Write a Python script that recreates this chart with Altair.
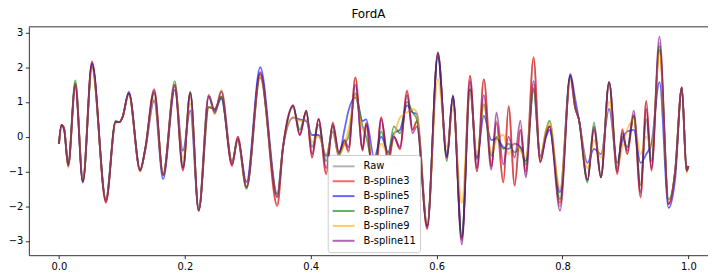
import altair as alt
import pandas as pd

# shared sample positions (local extrema and shoulders)
X = [0.000, 0.004, 0.008, 0.0147, 0.026, 0.038, 0.0525, 0.0746, 0.090, 0.096,
     0.101, 0.111, 0.129, 0.137, 0.1513, 0.1655, 0.184, 0.197, 0.2086, 0.222,
     0.238, 0.2475, 0.258, 0.275, 0.284, 0.298, 0.3197, 0.3468, 0.356, 0.372,
     0.3826, 0.393, 0.402, 0.4125, 0.4246, 0.435, 0.4446, 0.4535, 0.460, 0.4709,
     0.4824, 0.488, 0.5008, 0.512, 0.523, 0.532, 0.5418, 0.553, 0.5618, 0.5686,
     0.585, 0.602, 0.6163, 0.6258, 0.640, 0.653, 0.664, 0.675, 0.687, 0.695,
     0.706, 0.7143, 0.724, 0.733, 0.7415, 0.754, 0.7646, 0.774, 0.7793, 0.796,
     0.8124, 0.820, 0.826, 0.8397, 0.850, 0.861, 0.874, 0.887, 0.895, 0.9028,
     0.9132, 0.924, 0.933, 0.9412, 0.954, 0.9685, 0.979, 0.9895, 0.997, 1.000]

raw = [-0.21, 0.34, 0.25, -0.84, 1.55, -1.28, 2.15, -1.88, 0.42, 0.42,
       0.56, 1.25, -0.98, -0.36, 1.35, -1.12, 1.5, -0.95, 1.28, -2.13,
       1.2, 0.65, 1.33, -0.8, 0.0, -1.45, 1.85, -1.95, -0.3, 0.9,
       0.05, 0.75, -0.6, 0.5, -1.05, 0.4, -0.6, -0.1, -0.45, 1.7,
       -0.4, 0.4, -1.6, 0.55, -0.75, 0.0, -0.35, 1.3, 0.2, 0.45,
       -2.65, 2.43, -0.6, 1.15, -3.0, 1.75, -1.0, 1.65, -0.85, 0.45,
       -1.3, 0.85, -1.4, 0.2, -1.1, 2.25, -0.74, 0.1, 0.3, -2.0,
       1.75, 0.85, 0.5, -1.25, 0.25, -1.17, 1.57, -1.05, 0.2, -0.5,
       0.65, -1.7, 1.0, -0.95, 2.7, -1.94, -0.98, 1.42, -0.98, -0.84]

bspline3 = [-0.21, 0.34, 0.25, -0.84, 1.52, -1.25, 2.17, -1.9, 0.42, 0.42,
            0.56, 1.25, -0.98, -0.36, 1.37, -1.1, 1.45, -0.98, 1.28, -2.13,
            0.85, 0.8, 1.15, -0.85, 0.0, -1.45, 1.85, -2.0, -0.3, 0.9,
            0.05, 0.75, -0.6, 0.51, -1.08, 0.41, -0.45, -0.16, -0.4, 1.71,
            -0.4, 0.4, -1.65, 0.56, -0.79, 0.0, -0.36, 1.33, 0.2, 0.45,
            -2.66, 2.43, -0.6, 1.15, -2.95, 1.76, -1.0, 1.66, -0.85, 0.4,
            -1.32, 0.89, -1.41, 0.2, -1.0, 2.29, -0.74, 0.1, 0.3, -1.9,
            1.75, 0.85, 0.5, -1.25, 0.2, -1.17, 1.57, -1.08, 0.22, -0.5,
            0.6, -1.75, 1.04, -0.98, 2.5, -1.94, -0.98, 1.42, -0.98, -0.84]

bspline5 = [-0.21, 0.3, 0.22, -0.8, 1.45, -1.3, 2.1, -1.8, 0.42, 0.42,
            0.56, 1.3, -0.95, -0.4, 1.04, -1.22, 1.35, -0.4, 0.75, -2.1,
            1.2, 0.75, 1.1, -0.75, -0.1, -1.3, 2.0, -1.65, -0.3, 0.55,
            0.5, 0.45, 0.05, 0.05, -0.55, 0.15, -0.55, 0.2, 0.75, 1.13,
            0.45, 0.5, -0.6, 0.0, -0.45, 0.1, 0.2, 0.9, 0.7, 0.65,
            -2.55, 2.3, -0.55, 1.2, -2.9, 1.35, -0.6, 0.6, -0.1, -0.05,
            -0.3, -0.35, -0.2, -0.3, -0.7, 1.4, -0.55, 0.0, 0.2, -1.6,
            1.81, 1.1, 0.5, -0.75, -0.35, -0.5, 0.8, -0.75, -0.1, 0.15,
            0.2, -0.75, -0.5, -0.2, 1.57, -2.05, -1.2, 1.42, -0.98, -0.84]

bspline7 = [-0.21, 0.32, 0.25, -0.75, 1.62, -1.28, 2.0, -1.8, 0.46, 0.42,
            0.56, 1.25, -0.95, -0.36, 1.25, -1.1, 1.6, -0.88, 1.28, -2.1,
            0.85, 0.8, 1.15, -0.7, -0.1, -1.5, 1.7, -1.7, -0.3, 0.85,
            0.2, 0.7, -0.3, 0.35, -0.7, 0.3, -0.5, -0.2, 0.0, 1.25,
            0.3, 0.0, -0.9, 0.15, -0.5, 0.3, 0.1, 1.0, 0.7, 0.5,
            -2.55, 2.4, -0.7, 1.15, -2.9, 1.38, -0.65, 0.94, -0.55, 0.0,
            -0.35, -0.2, -0.45, -0.3, -0.8, 1.33, -0.6, 0.2, 0.46, -1.8,
            1.75, 0.85, 0.5, -1.32, 0.41, -1.17, 1.57, -0.9, 0.0, -0.3,
            0.6, -1.4, 0.5, -0.7, 2.6, -1.8, -0.98, 1.42, -0.98, -0.84]

bspline9 = [-0.21, 0.25, 0.3, -0.9, 1.5, -1.2, 1.95, -1.8, 0.4, 0.42,
            0.56, 1.2, -1.0, -0.4, 1.1, -1.1, 1.5, -0.62, 0.95, -2.1,
            1.2, 0.65, 1.33, -0.75, -0.1, -1.45, 1.75, -1.7, -0.3, 0.56,
            0.45, 0.5, -0.15, 0.0, -0.5, 0.15, -0.55, -0.2, 0.2, 1.2,
            0.2, 0.2, -0.9, -0.2, -0.5, 0.0, 0.55, 0.7, 0.8, 0.7,
            -2.5, 1.66, -0.3, 0.8, -1.9, 1.3, -0.5, 0.94, -0.45, -0.1,
            0.05, -0.5, -0.2, -0.4, -0.6, 1.5, -0.6, 0.2, 0.4, -1.5,
            1.6, 0.85, 0.5, -0.9, -0.1, -0.6, 1.0, -0.9, -0.3, 0.2,
            0.5, -0.5, 0.0, -0.3, 2.4, -1.9, -0.98, 1.42, -1.05, -0.84]

bspline11 = [-0.21, 0.34, 0.25, -0.84, 1.5, -1.32, 2.1, -1.85, 0.42, 0.42,
             0.56, 1.25, -0.98, -0.36, 1.3, -1.1, 1.5, -0.9, 1.25, -2.13,
             1.15, 0.7, 1.3, -0.8, -0.05, -1.45, 1.8, -1.75, -0.3, 0.9,
             0.05, 0.75, -0.5, 0.51, -0.9, 0.35, -0.45, -0.1, -0.3, 1.5,
             -0.35, 0.35, -1.4, 0.5, -0.6, 0.0, -0.3, 1.2, 0.1, 0.3,
             -2.6, 2.4, -0.6, 1.15, -3.1, 1.6, -0.9, 1.2, -0.95, 0.7,
             -0.8, 0.0, -0.6, 0.46, -1.17, 1.6, -0.7, 0.05, 0.3, -2.13,
             1.75, 0.85, 0.5, -1.25, 0.3, -1.17, 1.57, -1.0, 0.1, -0.4,
             0.75, -1.6, 0.8, -0.9, 2.88, -1.94, -0.98, 1.42, -0.98, -0.84]

names = ["Raw", "B-spline3", "B-spline5", "B-spline7", "B-spline9", "B-spline11"]
colors = ["gray", "red", "blue", "green", "orange", "purple"]
series = [raw, bspline3, bspline5, bspline7, bspline9, bspline11]

x_ticks = [0.0, 0.2, 0.4, 0.6, 0.8, 1.0]
y_ticks = [-3, -2, -1, 0, 1, 2, 3]

rows = []
for name, vals in zip(names, series):
    for i, (xv, yv) in enumerate(zip(X, vals)):
        rows.append({"x": xv, "y": yv, "series": name, "i": i})
df = pd.DataFrame(rows)

W, H = 684, 230
FONT = "DejaVu Sans"

xscale = alt.Scale(domain=[-0.0478, 1.0311], nice=False, zero=False)
yscale = alt.Scale(domain=[-3.41, 3.163], nice=False, zero=False)
cscale = alt.Scale(domain=names, range=colors)

layers = []
for k, name in enumerate(names):
    layers.append(
        alt.Chart(df)
        .transform_filter(alt.datum.series == name)
        .mark_line(interpolate="monotone", strokeWidth=1.8, opacity=0.6)
        .encode(
            x=alt.X("x:Q", scale=xscale,
                    axis=alt.Axis(values=x_ticks, format=".1f", title=None)),
            y=alt.Y("y:Q", scale=yscale,
                    axis=alt.Axis(values=y_ticks, format="d", title=None)),
            color=alt.Color("series:N", scale=cscale, title=None,
                            legend=alt.Legend(orient="none", legendX=301, legendY=129,
                                              symbolType="stroke", symbolStrokeWidth=2,
                                              symbolSize=484, labelOffset=8,
                                              clipHeight=15,
                                              fillColor="white", strokeColor="#cccccc",
                                              cornerRadius=3, padding=4,
                                              labelFontSize=10, labelFont=FONT,
                                              labelColor="black", rowPadding=0)),
            order="i:Q",
        )
    )

top_rule = (
    alt.Chart(pd.DataFrame({"a": [0]}))
    .mark_rule(color="black", strokeWidth=0.8)
    .encode(x=alt.value(0), x2=alt.value(W), y=alt.value(0))
)

chart = (
    alt.layer(*layers, top_rule)
    .properties(
        width=W, height=H,
        title=alt.TitleParams("FordA", fontSize=12, font=FONT, fontWeight="normal",
                              anchor="middle", frame="group", offset=5, color="black"),
        autosize=alt.AutoSizeParams(type="none"),
        padding={"left": 21, "top": 18, "right": 0, "bottom": 22},
    )
    .configure_view(stroke=None)
    .configure_axis(grid=False, domainColor="black", domainWidth=0.8,
                    tickColor="black", tickWidth=0.8, tickSize=3.5,
                    labelFont=FONT, labelFontSize=10, labelColor="black",
                    labelPadding=2.5)
)

chart.save("out.html", embed_options={"renderer": "svg", "actions": False})
